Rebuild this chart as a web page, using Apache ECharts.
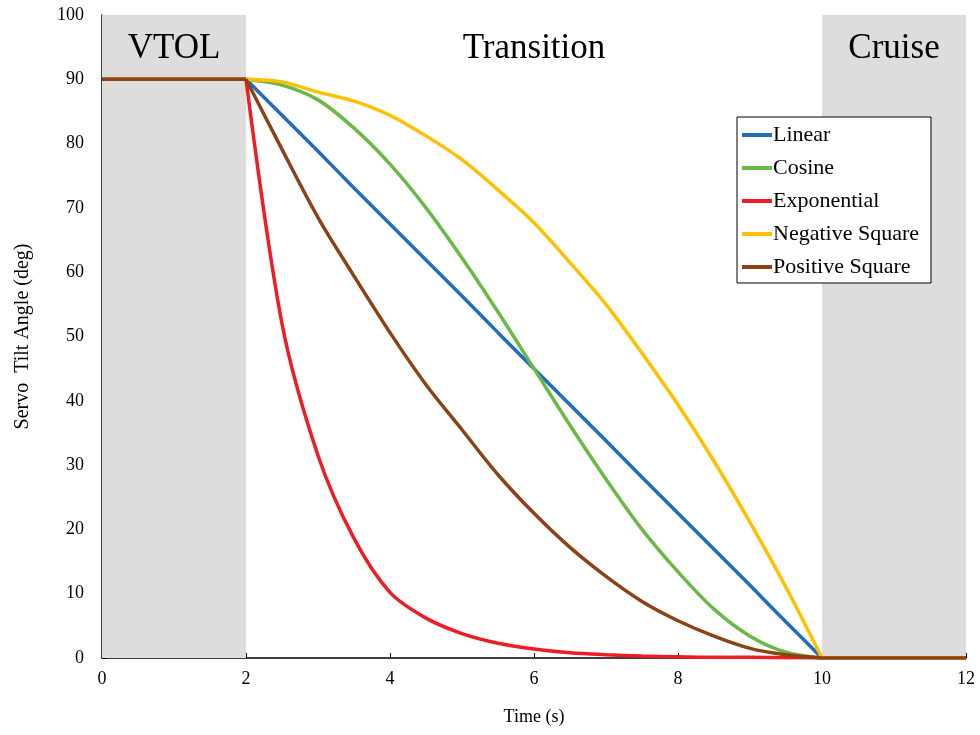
<!DOCTYPE html>
<html>
<head>
<meta charset="utf-8">
<script src="https://cdn.jsdelivr.net/npm/echarts@6/dist/echarts.min.js"></script>
<style>
html,body{margin:0;padding:0;background:#fff;}
#chart{width:980px;height:735px;}
</style>
</head>
<body>
<div id="chart"></div>
<script>
// Time (s)
const time = [0, 0.5, 1, 1.5, 2, 2.5, 3, 3.5, 4, 4.5, 5, 5.5, 6, 6.5, 7, 7.5, 8, 8.5, 9, 9.5, 10, 10.5, 11, 11.5, 12];
// Servo tilt angle (deg)
const linear      = [90, 90, 90, 90, 90, 84.4, 78.8, 73.1, 67.5, 61.9, 56.3, 50.6, 45.0, 39.4, 33.8, 28.1, 22.5, 16.9, 11.3, 5.6, 0, 0, 0, 0, 0];
const cosine      = [90, 90, 90, 90, 90, 89.1, 86.8, 82.4, 76.8, 70.0, 62.2, 53.8, 45.0, 36.2, 27.8, 20.0, 13.4, 7.6, 3.4, 0.9, 0, 0, 0, 0, 0];
const exponential = [90, 90, 90, 90, 90, 52.0, 31.5, 18.6, 10.2, 6.2, 3.8, 2.3, 1.4, 0.8, 0.5, 0.3, 0.2, 0.1, 0.1, 0.05, 0, 0, 0, 0, 0];
const negSquare   = [90, 90, 90, 90, 90, 89.6, 88.0, 86.6, 84.4, 81.2, 77.5, 72.8, 67.7, 61.5, 55.0, 47.4, 39.4, 30.6, 21.1, 11.0, 0, 0, 0, 0, 0];
const posSquare   = [90, 90, 90, 90, 90, 79.1, 68.5, 59.4, 50.6, 42.5, 35.5, 28.5, 22.5, 17.2, 12.7, 8.8, 5.8, 3.4, 1.5, 0.5, 0, 0, 0, 0, 0];
const seriesNames = ['Linear', 'Cosine', 'Exponential', 'Negative Square', 'Positive Square'];
const seriesValues = [linear, cosine, exponential, negSquare, posSquare];
const colors = ['#1F6EBD', '#6AB946', '#EE1C25', '#FFC000', '#8A4216'];
// Flight phases
const phaseNames = ['VTOL', 'Transition', 'Cruise'];
const phaseBounds = [[0, 2], [2, 10], [10, 12]];
const xTicks = [0, 12, 2];
const yTicks = [0, 100, 10];

const FONT = '"Liberation Serif", "Times New Roman", serif';
const chart = echarts.init(document.getElementById('chart'), null, {renderer: 'canvas'});

// Build data per phase, with a break between phases so smoothing keeps the corners sharp
function buildData(values) {
  const out = [];
  phaseBounds.forEach((b, pi) => {
    if (pi > 0) out.push([b[0], '-']);
    time.forEach((t, k) => {
      if (t >= b[0] && t <= b[1]) out.push([t, values[k]]);
    });
  });
  return out;
}

const series = seriesNames.map((name, i) => ({
  name: name,
  type: 'line',
  data: buildData(seriesValues[i]),
  connectNulls: false,
  showSymbol: false,
  smooth: 0.3,
  lineStyle: {width: 3.5, color: colors[i]},
  itemStyle: {color: colors[i]},
  z: 3 + i
}));

series.push({
  type: 'line',
  data: [],
  silent: true,
  z: 1,
  markArea: {
    silent: true,
    data: phaseNames.map((n, i) => [
      {xAxis: phaseBounds[i][0], name: n,
       itemStyle: {color: i === 1 ? 'rgba(0,0,0,0)' : '#DEDDDC'}},
      {xAxis: phaseBounds[i][1]}
    ]),
    label: {
      show: true,
      position: 'insideTop',
      distance: 16,
      fontFamily: FONT,
      fontSize: 35,
      color: '#000'
    }
  }
});

chart.setOption({
  animation: false,
  backgroundColor: '#fff',
  color: colors,
  grid: {left: 102, right: 14, top: 15, bottom: 77, containLabel: false},
  legend: {
    orient: 'vertical',
    left: 737,
    top: 117,
    data: seriesNames,
    icon: 'rect',
    itemWidth: 30,
    itemHeight: 4,
    itemGap: 11,
    padding: [7, 12, 5, 5],
    backgroundColor: '#fff',
    borderColor: '#000',
    borderWidth: 1,
    borderRadius: 0,
    textStyle: {fontFamily: FONT, fontSize: 22, color: '#000', lineHeight: 22, padding: [0, 0, 0, -4]}
  },
  xAxis: {
    type: 'value',
    min: xTicks[0], max: xTicks[1], interval: xTicks[2],
    name: 'Time (s)',
    nameLocation: 'middle',
    nameGap: 50,
    nameTextStyle: {fontFamily: FONT, fontSize: 18, color: '#000'},
    axisLine: {show: true, lineStyle: {color: '#000', width: 1.5}},
    axisTick: {show: true, inside: true, length: 5, lineStyle: {color: '#000'}},
    axisLabel: {fontFamily: FONT, fontSize: 18, color: '#000', margin: 12},
    splitLine: {show: false}
  },
  yAxis: {
    type: 'value',
    min: yTicks[0], max: yTicks[1], interval: yTicks[2],
    name: 'Servo  Tilt Angle (deg)',
    nameLocation: 'middle',
    nameGap: 69,
    nameTextStyle: {fontFamily: FONT, fontSize: 20, color: '#000'},
    axisLine: {show: true, lineStyle: {color: '#000', width: 1.5}},
    axisTick: {show: true, inside: true, length: 5, lineStyle: {color: '#000'}},
    axisLabel: {fontFamily: FONT, fontSize: 18, color: '#000', margin: 18},
    splitLine: {show: false}
  },
  series: series
});
</script>
</body>
</html>
